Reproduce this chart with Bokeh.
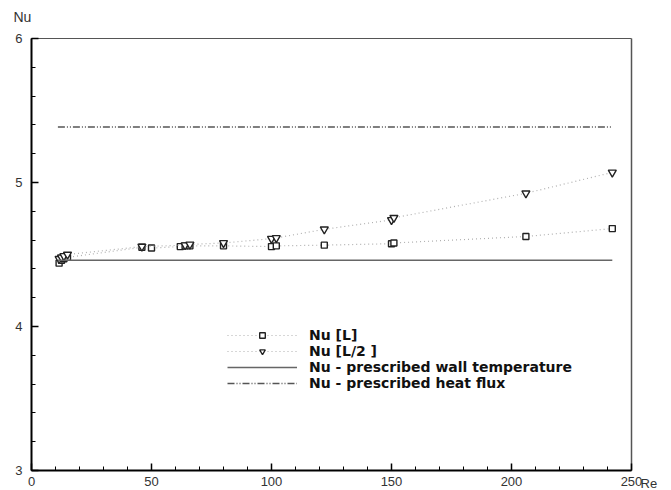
from bokeh.plotting import figure
from bokeh.models import Legend, LegendItem, Label, FixedTicker
from bokeh.embed import file_html
from bokeh.resources import INLINE

# Data
re_L = [11.5, 12.5, 13.5, 15, 46, 50, 62, 64, 66, 80, 100, 102, 122, 150, 151, 206, 242]
nu_L = [4.44, 4.46, 4.47, 4.48, 4.55, 4.545, 4.555, 4.56, 4.56, 4.56, 4.555, 4.56, 4.565, 4.575, 4.58, 4.625, 4.68]
re_L2 = [11.5, 12.5, 13.5, 15, 46, 64, 66, 80, 100, 102, 122, 150, 151, 206, 242]
nu_L2 = [4.47, 4.48, 4.49, 4.50, 4.555, 4.565, 4.57, 4.58, 4.61, 4.615, 4.675, 4.74, 4.755, 4.925, 5.07]
re_range = [11, 242]
nu_wall_T = [4.46, 4.46]
nu_heat_flux = [5.385, 5.385]
x_ticks = [0, 50, 100, 150, 200, 250]
y_ticks = [3, 4, 5, 6]
labels = ["Nu [L]", "Nu [L/2 ]", "Nu - prescribed wall temperature", "Nu - prescribed heat flux"]

FONT = "Liberation Sans"
W, H = 671, 490
# pixel geometry of the axes box inside the figure
left_px, right_px, top_px, bottom_px = 31, 631, 38, 470
xs = (right_px - left_px) / (x_ticks[-1] - x_ticks[0])
ys = (bottom_px - top_px) / (y_ticks[-1] - y_ticks[0])
x_rng = (x_ticks[0] - left_px / xs, x_ticks[-1] + (W - right_px) / xs)
y_rng = (y_ticks[0] - (H - bottom_px) / ys, y_ticks[-1] + top_px / ys)

p = figure(width=W, height=H, x_range=x_rng, y_range=y_rng,
           output_backend="svg", toolbar_location=None,
           min_border_left=0, min_border_right=0, min_border_top=0, min_border_bottom=0)
p.grid.visible = False
p.background_fill_color = "white"
p.border_fill_color = "white"
p.outline_line_color = None

xa, ya = p.xaxis[0], p.yaxis[0]
xa.fixed_location = y_ticks[0]
ya.fixed_location = x_ticks[0]
xa.bounds = (x_ticks[0], x_ticks[-1])
ya.bounds = (y_ticks[0], y_ticks[-1])
for ax in (xa, ya):
    ax.axis_line_width = 2
    ax.axis_line_color = "black"
    ax.major_tick_line_color = "black"
    ax.minor_tick_line_color = "black"
    ax.major_tick_line_width = 1.5
    ax.minor_tick_line_width = 1
    ax.major_tick_in = 7
    ax.major_tick_out = 0
    ax.minor_tick_in = 4
    ax.minor_tick_out = 0
    ax.major_label_text_font = FONT
    ax.major_label_text_font_size = "13px"
    ax.major_label_text_color = "#333333"
xa.major_label_standoff = 6
ya.major_label_standoff = 9

xa.ticker = FixedTicker(ticks=x_ticks, minor_ticks=list(range(0, 251, 10)))
ya.ticker = FixedTicker(ticks=y_ticks, minor_ticks=[3 + 0.2 * i for i in range(16)])

# top and right frame lines of the box
p.line([x_ticks[0], x_ticks[-1]], [y_ticks[-1], y_ticks[-1]], line_color="#555555", line_width=1)
p.line([x_ticks[-1], x_ticks[-1]], [y_ticks[0], y_ticks[-1]], line_color="#555555", line_width=1.5)

r_lineL = p.line(re_L, nu_L, line_color="#b0b0b0", line_dash="1 3", line_width=1.2)
r_ptsL = p.scatter(re_L, nu_L, marker="square", size=6, fill_color="white",
                   line_color="#222222", line_width=1.4)
r_lineL2 = p.line(re_L2, nu_L2, line_color="#b0b0b0", line_dash="1 3", line_width=1.2)
r_ptsL2 = p.scatter(re_L2, nu_L2, marker="inverted_triangle", size=8, fill_color="white",
                    line_color="#222222", line_width=1.4)
r_wall = p.line(re_range, nu_wall_T, line_color="#666666", line_width=1.5)
r_flux = p.line(re_range, nu_heat_flux, line_color="#555555", line_width=1.5,
                line_dash="7 2 1 2 1 2")

legend = Legend(items=[
    LegendItem(label=labels[0], renderers=[r_lineL, r_ptsL]),
    LegendItem(label=labels[1], renderers=[r_lineL2, r_ptsL2]),
    LegendItem(label=labels[2], renderers=[r_wall]),
    LegendItem(label=labels[3], renderers=[r_flux]),
], location=(227, 99), glyph_width=70, glyph_height=14, label_height=14, spacing=0,
    padding=0, margin=0,
    label_text_font="DejaVu Sans", label_text_font_size="14px", label_text_font_style="bold",
    label_text_color="#111111", label_standoff=12,
    border_line_color=None, background_fill_alpha=0)
p.add_layout(legend, "center")

p.add_layout(Label(x=x_ticks[0], y=y_ticks[-1], x_offset=-18, y_offset=14, text="Nu",
                   text_font=FONT, text_font_size="14px", text_color="#333333",
                   text_baseline="bottom", text_align="left"))
p.add_layout(Label(x=x_ticks[-1], y=y_ticks[0], x_offset=9, y_offset=-5, text="Re",
                   text_font=FONT, text_font_size="13px", text_color="#333333",
                   text_baseline="top", text_align="left"))

open("out.html", "w").write(file_html(p, INLINE))
